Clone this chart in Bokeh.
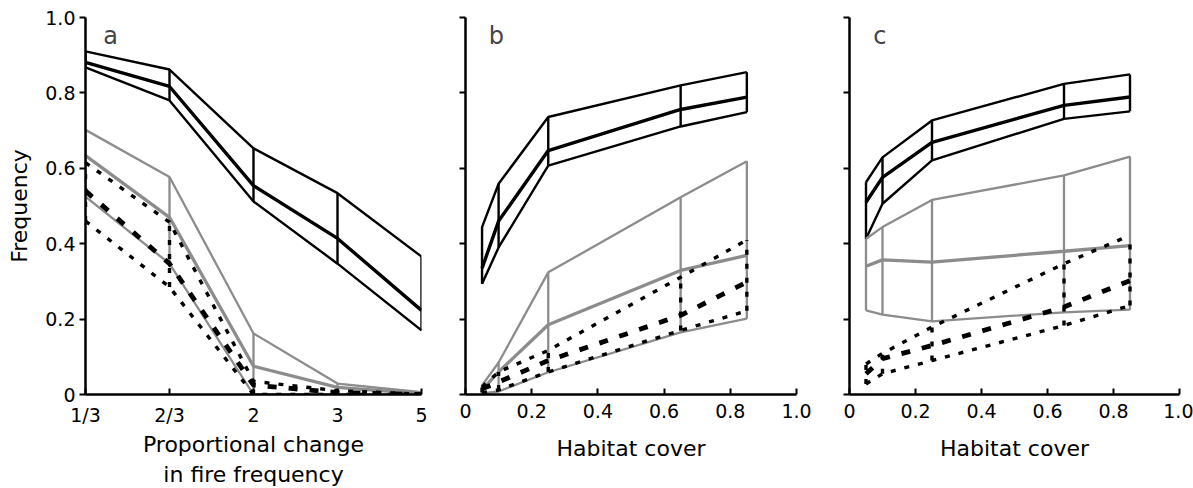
from bokeh.plotting import figure
from bokeh.layouts import row
from bokeh.models import Range1d, FixedTicker, Label
from bokeh.embed import file_html
from bokeh.resources import INLINE

FONT = "DejaVu Sans"
BLACK = "#000000"
GRAY = "#8c8c8c"

# ---------------- data ----------------
# panel a: categories of proportional change in fire frequency
a_pos = [0, 1, 2, 3, 4]
a_labels = ["1/3", "2/3", "2", "3", "5"]
a_black_hi = [0.910, 0.862, 0.653, 0.534, 0.366]
a_black_mean = [0.881, 0.817, 0.554, 0.414, 0.223]
a_black_lo = [0.868, 0.780, 0.512, 0.347, 0.170]
a_gray_hi = [0.702, 0.577, 0.162, 0.029, 0.006]
a_gray_mean = [0.634, 0.470, 0.075, 0.019, 0.002]
a_gray_lo = [0.525, 0.347, 0.0, 0.0, 0.0]
a_dot_hi = [0.615, 0.457, 0.035, 0.010, 0.001]
a_dash_mean = [0.540, 0.347, 0.025, 0.005, 0.0]
a_dot_lo = [0.460, 0.285, 0.0, 0.0, 0.0]

# panels b and c: habitat cover
hab = [0.05, 0.1, 0.25, 0.65, 0.85]

b_black_hi = [0.444, 0.559, 0.736, 0.820, 0.855]
b_black_mean = [0.335, 0.460, 0.647, 0.756, 0.789]
b_black_lo = [0.294, 0.390, 0.607, 0.711, 0.749]
b_gray_hi = [0.024, 0.085, 0.324, 0.523, 0.619]
b_gray_mean = [0.012, 0.060, 0.185, 0.329, 0.369]
b_gray_lo = [0.003, 0.008, 0.059, 0.165, 0.201]
b_dot_hi = [0.020, 0.060, 0.117, 0.311, 0.410]
b_dash_mean = [0.015, 0.033, 0.090, 0.210, 0.298]
b_dot_lo = [0.005, 0.012, 0.060, 0.170, 0.222]

c_black_hi = [0.563, 0.629, 0.727, 0.824, 0.849]
c_black_mean = [0.510, 0.576, 0.669, 0.767, 0.789]
c_black_lo = [0.413, 0.506, 0.621, 0.731, 0.751]
c_gray_hi = [0.413, 0.444, 0.516, 0.581, 0.631]
c_gray_mean = [0.340, 0.357, 0.351, 0.380, 0.395]
c_gray_lo = [0.223, 0.212, 0.194, 0.218, 0.225]
c_dot_hi = [0.081, 0.109, 0.179, 0.347, 0.422]
c_dash_mean = [0.055, 0.095, 0.130, 0.232, 0.302]
c_dot_lo = [0.028, 0.055, 0.090, 0.183, 0.236]

y_ticks = [0, 0.2, 0.4, 0.6, 0.8, 1.0]
y_tick_labels = ["0", "0.2", "0.4", "0.6", "0.8", "1.0"]
hab_ticks = [0, 0.2, 0.4, 0.6, 0.8, 1.0]
hab_tick_labels = ["0", "0.2", "0.4", "0.6", "0.8", "1.0"]


def make_fig(frame_w, bl, br, x_range, show_ylab):
    p = figure(frame_width=frame_w, frame_height=377,
               min_border_left=bl, min_border_right=br,
               min_border_top=17, min_border_bottom=94,
               x_range=x_range, y_range=Range1d(0, 1),
               output_backend="svg", toolbar_location=None,
               background_fill_color="white", border_fill_color="white")
    p.grid.visible = False
    p.outline_line_color = None
    for ax in (p.xaxis, p.yaxis):
        ax.axis_line_width = 2.5
        ax.axis_line_color = BLACK
        ax.major_tick_line_width = 2
        ax.major_tick_line_color = BLACK
        ax.minor_tick_line_color = None
        ax.major_label_text_font = FONT
        ax.major_label_text_font_size = "19px"
        ax.major_label_text_color = BLACK
        ax.axis_label_text_font = FONT
        ax.axis_label_text_font_size = "22px"
        ax.axis_label_text_font_style = "normal"
        ax.axis_label_text_color = BLACK
    p.xaxis.major_tick_in = 6
    p.xaxis.major_tick_out = 0
    p.xaxis.major_label_standoff = 9
    p.xaxis.axis_label_standoff = 15
    p.yaxis.major_tick_in = 0
    p.yaxis.major_tick_out = 6
    p.yaxis.major_label_standoff = 4
    p.yaxis.axis_label_standoff = 10
    p.yaxis.ticker = FixedTicker(ticks=y_ticks)
    if show_ylab:
        p.yaxis.major_label_overrides = {t: l for t, l in zip(y_ticks, y_tick_labels)}
        p.yaxis.axis_label = "Frequency"
    else:
        p.yaxis.major_label_overrides = {t: "" for t in y_ticks}
        p.yaxis.major_label_standoff = 0
    return p


def band(p, x, lo, mid, hi, color, w_band, w_mid, dash_band="solid", dash_mid="solid"):
    p.line(x, hi, line_color=color, line_width=w_band, line_dash=dash_band)
    p.line(x, lo, line_color=color, line_width=w_band, line_dash=dash_band)
    p.segment(x0=x, y0=lo, x1=x, y1=hi, line_color=color, line_width=w_band,
              line_dash=dash_band)
    p.line(x, mid, line_color=color, line_width=w_mid, line_dash=dash_mid)


def draw_panel(p, x, bk, gr, ds):
    band(p, x, bk[0], bk[1], bk[2], BLACK, 2.4, 3.4)
    band(p, x, gr[0], gr[1], gr[2], GRAY, 2.3, 3.3)
    band(p, x, ds[0], ds[1], ds[2], BLACK, 3.4, 4.8, "5 9", "9 12")


# panel a
pa = make_fig(336, 85, 14, Range1d(0, 4), True)
pa.xaxis.ticker = FixedTicker(ticks=a_pos)
pa.xaxis.major_label_overrides = {t: l for t, l in zip(a_pos, a_labels)}
pa.xaxis.axis_label = "Proportional change\nin fire frequency"
pa.xaxis.axis_label_standoff = 3
draw_panel(pa, a_pos,
           (a_black_lo, a_black_mean, a_black_hi),
           (a_gray_lo, a_gray_mean, a_gray_hi),
           (a_dot_lo, a_dash_mean, a_dot_hi))
pa.add_layout(Label(x=0.21, y=0.95, text="a", text_font=FONT,
                    text_font_size="24px", text_baseline="alphabetic"))

# panel b
pb = make_fig(331, 30, 20, Range1d(0, 1), False)
pb.xaxis.ticker = FixedTicker(ticks=hab_ticks)
pb.xaxis.major_label_overrides = {t: l for t, l in zip(hab_ticks, hab_tick_labels)}
pb.xaxis.axis_label = "Habitat cover"
draw_panel(pb, hab,
           (b_black_lo, b_black_mean, b_black_hi),
           (b_gray_lo, b_gray_mean, b_gray_hi),
           (b_dot_lo, b_dash_mean, b_dot_hi))
pb.add_layout(Label(x=0.07, y=0.95, text="b", text_font=FONT,
                    text_font_size="24px", text_baseline="alphabetic"))

# panel c
pc = make_fig(330, 33, 14, Range1d(0, 1), False)
pc.xaxis.ticker = FixedTicker(ticks=hab_ticks)
pc.xaxis.major_label_overrides = {t: l for t, l in zip(hab_ticks, hab_tick_labels)}
pc.xaxis.axis_label = "Habitat cover"
draw_panel(pc, hab,
           (c_black_lo, c_black_mean, c_black_hi),
           (c_gray_lo, c_gray_mean, c_gray_hi),
           (c_dot_lo, c_dash_mean, c_dot_hi))
pc.add_layout(Label(x=0.072, y=0.95, text="c", text_font=FONT,
                    text_font_size="24px", text_baseline="alphabetic"))

layout = row(pa, pb, pc)
open("out.html", "w").write(file_html(layout, INLINE))
